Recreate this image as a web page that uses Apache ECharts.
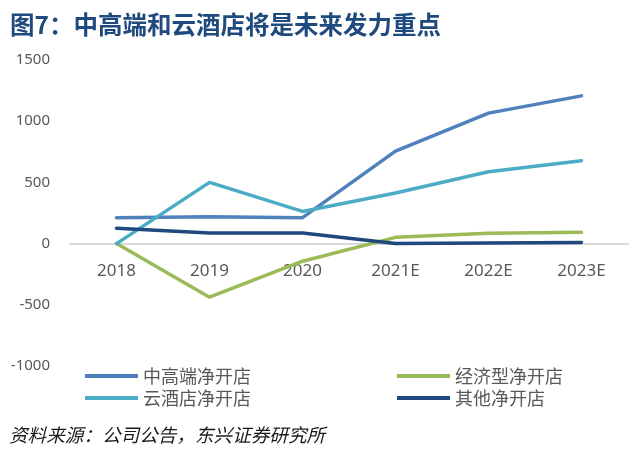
<!DOCTYPE html>
<html>
<head>
<meta charset="utf-8">
<script src="https://cdn.jsdelivr.net/npm/echarts@6/dist/echarts.min.js"></script>
<style>html,body{margin:0;padding:0;background:#fff}#c{width:642px;height:450px}</style>
</head>
<body>
<div id="c"></div>
<script>
const categories = ['2018', '2019', '2020', '2021E', '2022E', '2023E'];
const seriesNames = ['中高端净开店', '经济型净开店', '云酒店净开店', '其他净开店'];
const midHigh = [212, 220, 212, 755, 1066, 1207];
const economy = [0, -438, -144, 51, 84, 93];
const cloud = [0, 500, 263, 413, 587, 677];
const others = [125, 87, 87, 0, 5, 10];
const yTicks = { min: -1000, max: 1500, interval: 500 };
const titleText = '图7：中高端和云酒店将是未来发力重点';
const sourceText = '资料来源：公司公告，东兴证券研究所';

const colors = ['#4F81BD', '#9BBB59', '#4BACC6', '#1F497D'];
const values = [midHigh, economy, cloud, others];

const chart = echarts.init(document.getElementById('c'));
chart.setOption({
  animation: false,
  backgroundColor: '#fff',
  title: {
    text: titleText, left: 5, top: 7,
    textStyle: { fontSize: 24.5, fontWeight: 'bold', color: '#1F4A7E', fontFamily: '"Noto Sans CJK SC", sans-serif' }
  },
  graphic: [{
    type: 'text', left: 9, top: 426,
    style: { text: sourceText, font: 'italic 18.6px "Noto Sans CJK SC", sans-serif', fill: '#1a1a1a' }
  }],
  legend: [
    {
      data: [seriesNames[0], seriesNames[2]], orient: 'vertical', left: 80, top: 362,
      icon: 'rect', itemWidth: 53, itemHeight: 4, itemGap: 4,
      textStyle: { fontSize: 18, color: '#595959', fontFamily: '"Noto Sans CJK SC", sans-serif' }
    },
    {
      data: [seriesNames[1], seriesNames[3]], orient: 'vertical', left: 392, top: 362,
      icon: 'rect', itemWidth: 53, itemHeight: 4, itemGap: 4,
      textStyle: { fontSize: 18, color: '#595959', fontFamily: '"Noto Sans CJK SC", sans-serif' }
    }
  ],
  grid: { left: 70, right: 14, top: 60, bottom: 84, containLabel: false },
  xAxis: {
    type: 'category', data: categories, boundaryGap: true,
    axisLine: { onZero: true, lineStyle: { color: '#D9D9D9', width: 2 } },
    axisTick: { show: false },
    axisLabel: { margin: -103, fontSize: 17, color: '#595959', fontFamily: '"Noto Sans", sans-serif' }
  },
  yAxis: {
    type: 'value', min: yTicks.min, max: yTicks.max, interval: yTicks.interval,
    axisLine: { show: false }, axisTick: { show: false }, splitLine: { show: false },
    axisLabel: { margin: 20, fontSize: 15, color: '#595959', fontFamily: '"Noto Sans", sans-serif', formatter: v => String(v) }
  },
  series: seriesNames.map((name, i) => ({
    name, type: 'line', data: values[i], symbol: 'none', smooth: false,
    lineStyle: { width: 3.5, color: colors[i], cap: 'round' },
    itemStyle: { color: colors[i] }
  }))
});
</script>
</body>
</html>
